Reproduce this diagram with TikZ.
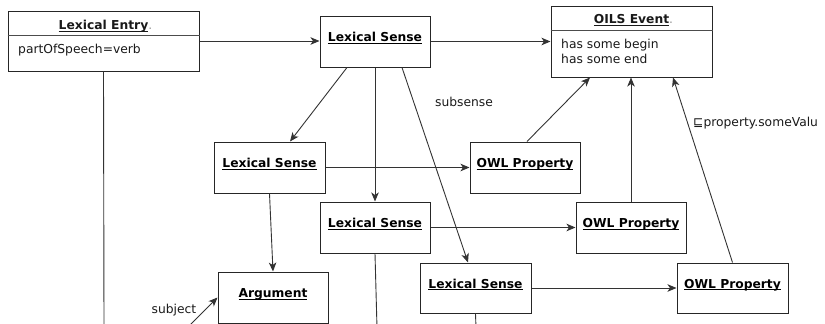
\documentclass[tikz,border=0pt]{standalone}
\usepackage{fontspec}
\setmainfont{DejaVu Sans}
\usetikzlibrary{arrows.meta,calc}
\newcommand\ttl[1]{\setbox0\hbox{\bfseries #1}\rlap{\rule[-2pt]{\wd0}{0.7pt}}\box0}
\begin{document}
\begin{tikzpicture}[x=1pt,y=-1pt, font=\fontsize{12.3}{14}\selectfont,
  box/.style={draw=black!85, line width=1pt, fill=white, inner sep=0pt, text height=8pt, text depth=8pt},
  sep/.style={draw=black!70, line width=0.8pt},
  conn/.style={draw=black!80, line width=0.9pt},
  arr/.style={conn, -{Stealth[length=9pt,width=7.5pt,inset=2.5pt]}},
  lbl/.style={inner sep=0pt, text=black!90}]
\useasboundingbox (0,0) rectangle (825,324);
\clip (0,0) rectangle (825,324);

% boxes
\node[box, minimum width=191pt, minimum height=60pt] (entry) at (103.5,41) {};
\draw[sep] ([yshift=-25pt]entry.north west) -- ([yshift=-25pt]entry.north east);
\node[lbl, anchor=base] (entryT) at (103.5,29.5) {\ttl{Lexical Entry}\rlap{\textcolor{black!40}{.}}};
\node[lbl, anchor=base west] (entryA) at (18,53) {partOfSpeech=verb};

\node[box, minimum width=161pt, minimum height=71pt] (oils) at (631.5,41.5) {};
\draw[sep] ([yshift=-25pt]oils.north west) -- ([yshift=-25pt]oils.north east);
\node[lbl, anchor=base] (oilsT) at (631.5,23.5) {\ttl{OILS Event}\rlap{\textcolor{black!40}{.}}};
\node[lbl, anchor=base west] (oilsA) at (561,48) {has some begin};
\node[lbl, anchor=base west] (oilsB) at (561,63) {has some end};

\node[box, minimum width=110pt, minimum height=51pt] (lsA) at (375,41.5) {\ttl{Lexical Sense}};
\node[box, minimum width=111pt, minimum height=51pt] (ls1) at (269.5,167.5) {\ttl{Lexical Sense}};
\node[box, minimum width=110pt, minimum height=51pt] (owl1) at (525,167.5) {\ttl{OWL Property}};
\node[box, minimum width=110pt, minimum height=51pt] (ls2) at (375,227.5) {\ttl{Lexical Sense}};
\node[box, minimum width=110pt, minimum height=51pt] (owl2) at (631,227.5) {\ttl{OWL Property}};
\node[box, minimum width=111pt, minimum height=50pt] (ls3) at (475.5,288) {\ttl{Lexical Sense}};
\node[box, minimum width=111pt, minimum height=50pt] (owl3) at (732.5,288) {\ttl{OWL Property}};
\node[box, minimum width=110pt, minimum height=51pt] (arg) at (273,297.5) {\ttl{Argument}};

% free ends
\coordinate (entryEnd) at (104,328);
\coordinate (ls2End) at (377,328);
\coordinate (ls3End) at (476,328);
\coordinate (subjS) at (187,328);

% connectors
\draw[arr] (entry.east) -- (entry.east -| lsA.west);
\draw[arr] (lsA.east) -- (oils.west);
\draw[arr] ([xshift=-28pt]lsA.south) -- ([xshift=20.5pt]ls1.north);
\draw[arr] (lsA.south) -- (ls2.north);
\draw[arr] ([xshift=27pt]lsA.south) -- ([xshift=-7.5pt]ls3.north);
\draw[arr] (ls1) -- (owl1);
\draw[arr] (ls2) -- (owl2);
\draw[arr] (ls3) -- (owl3);
\draw[arr] ([xshift=2pt]owl1.north) -- ([xshift=-41.5pt]oils.south);
\draw[arr] (owl2.north) -- (owl2.north |- oils.south);
\draw[arr] (owl3.north) -- ([xshift=41.5pt]oils.south);
\draw[arr] (ls1.south) -- (arg.north);
\draw[arr] (subjS) -- (arg.west);
\draw[conn] (entry.south) -- (entryEnd);
\draw[conn] (ls2.south) -- (ls2End);
\draw[conn] (ls3.south) -- (ls3End);

% labels
\node[lbl] (subsense) at (464,102) {subsense};
\node[lbl] (subject) at (174,310) {subject};
\node[lbl, anchor=west] (supl) at (693,123) {⊑property.someValu};
\end{tikzpicture}
\end{document}
